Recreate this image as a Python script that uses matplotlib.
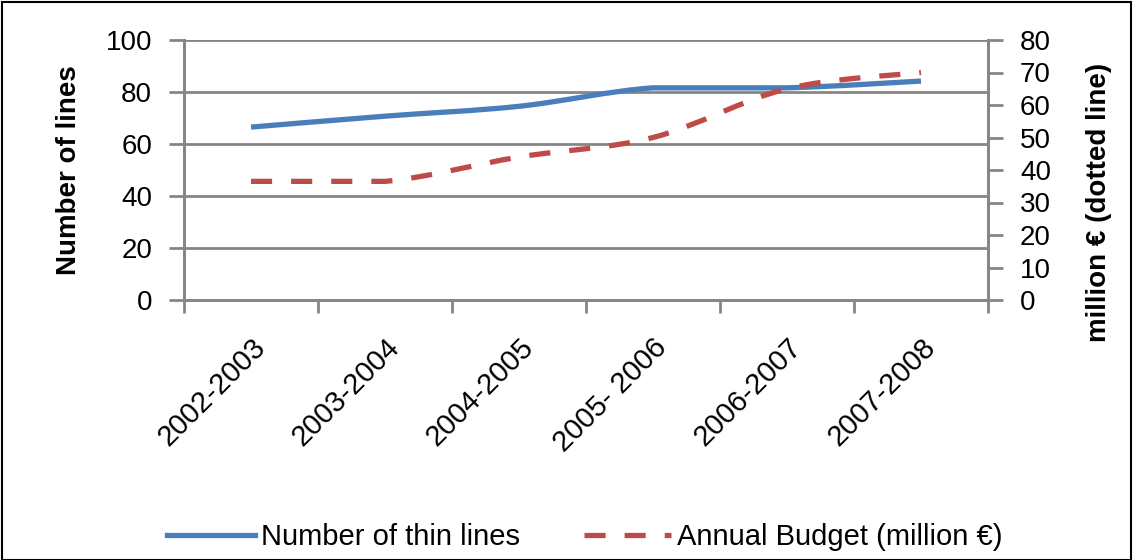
import numpy as np
import matplotlib
matplotlib.use("Agg")
import matplotlib.pyplot as plt
from matplotlib.path import Path
from matplotlib.patches import PathPatch, Rectangle
from matplotlib.lines import Line2D

categories = ["2002-2003", "2003-2004", "2004-2005", "2005- 2006", "2006-2007", "2007-2008"]
thin_lines = [66.5, 70.7, 74.5, 81.6, 81.6, 84.2]
budget = [36.5, 36.5, 44, 50, 65, 70]

plt.rcParams['font.family'] = ['Liberation Sans', 'DejaVu Sans']

GRID = "#868686"
BLUE = "#4a7ebb"
RED = "#be4b48"
LW = 3.8
DASH = (0, (4.0, 3.6))

fig = plt.figure(figsize=(11.33, 5.6), dpi=100)
ax = fig.add_axes([184/1133, 1-300/560, (988-184)/1133, 260/560])
ax2 = ax.twinx()

def smooth_path(xs, ys, t=1/6):
    xs = np.asarray(xs, float); ys = np.asarray(ys, float)
    n = len(xs)
    verts = [(xs[0], ys[0])]
    codes = [Path.MOVETO]
    for i in range(n - 1):
        p0 = np.array([xs[max(i-1, 0)], ys[max(i-1, 0)]])
        p1 = np.array([xs[i], ys[i]])
        p2 = np.array([xs[i+1], ys[i+1]])
        p3 = np.array([xs[min(i+2, n-1)], ys[min(i+2, n-1)]])
        c1 = p1 + (p2 - p0) * t
        c2 = p2 - (p3 - p1) * t
        # avoid overshoot on flat segments
        if p1[1] == p2[1]:
            c1[1] = p1[1]; c2[1] = p2[1]
        verts += [tuple(c1), tuple(c2), tuple(p2)]
        codes += [Path.CURVE4] * 3
    return Path(verts, codes)

x = np.arange(len(categories))
ax.set_xlim(-0.5, len(categories) - 0.5)
ax.set_ylim(0, 100)
ax2.set_ylim(0, 80)

ax.set_yticks(np.arange(0, 101, 20))
ax2.set_yticks(np.arange(0, 81, 10))
ax.yaxis.grid(True, color=GRID, linewidth=2)
ax.set_axisbelow(True)

p1 = PathPatch(smooth_path(x, thin_lines), facecolor='none', edgecolor=BLUE, linewidth=LW,
               capstyle='butt', zorder=3)
ax.add_patch(p1)
p2 = PathPatch(smooth_path(x, budget), facecolor='none', edgecolor=RED, linewidth=LW,
               linestyle=DASH, capstyle='butt', zorder=4)
ax2.add_patch(p2)

ax.set_xticks(np.arange(-0.5, len(categories), 1), minor=False)
ax.set_xticklabels([])
ax.set_xticks(x, minor=True)
ax.set_xticklabels(categories, minor=True, rotation=45, ha='right', rotation_mode='anchor',
                   fontsize=21)
ax.tick_params(axis='x', which='major', length=9, width=2, color=GRID)
ax.tick_params(axis='x', which='minor', length=0, pad=24)
ax.tick_params(axis='y', length=11, width=2, color=GRID, labelsize=20, pad=12)
ax2.tick_params(axis='y', length=11, width=2, color=GRID, labelsize=20, pad=12)

for a in (ax, ax2):
    for s in a.spines.values():
        s.set_color(GRID)
        s.set_linewidth(2)
ax.spines['top'].set_visible(False)
ax2.spines['top'].set_visible(False)

ax.set_ylabel("Number of lines", fontsize=20, fontweight='bold', labelpad=17)
ax2.set_ylabel("million € (dotted line)", fontsize=20, fontweight='bold')
ax2.yaxis.set_label_coords((1086 - 184) / 804, (300 - 202) / 260)

handles = [Line2D([], [], color=BLUE, linewidth=LW),
           Line2D([], [], color=RED, linewidth=LW, linestyle=DASH)]
fig.legend(handles, ["Number of thin lines", "Annual Budget (million €)"],
           loc='center', bbox_to_anchor=(585/1133, 1-537/560), ncol=2, frameon=False,
           fontsize=21, handlelength=3.0, columnspacing=2.2, handletextpad=0.2,
           borderpad=0, borderaxespad=0)

fig.patches.append(Rectangle((0.002, 0.0), 0.996, 0.996, transform=fig.transFigure,
                             fill=False, edgecolor='black', linewidth=1.5))

fig.savefig("out.png", dpi=100)
